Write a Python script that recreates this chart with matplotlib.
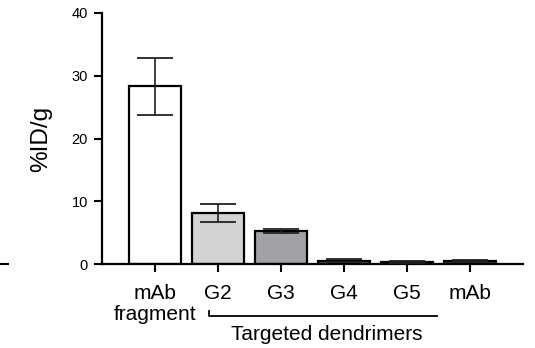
import matplotlib
matplotlib.use("Agg")
import matplotlib.pyplot as plt
from matplotlib.lines import Line2D

categories = ["mAb\nfragment", "G2", "G3", "G4", "G5", "mAb"]
values = [28.3, 8.1, 5.3, 0.55, 0.3, 0.45]
errors = [4.5, 1.4, 0.35, 0.2, 0.1, 0.15]
colors = ["#ffffff", "#d3d3d3", "#a1a1a6", "#666666", "#444444", "#444444"]
yticks = [0, 10, 20, 30, 40]
bracket_label = "Targeted dendrimers"

plt.rcParams['font.family'] = ['Liberation Sans', 'DejaVu Sans']

fig = plt.figure(figsize=(5.35, 3.48), dpi=100)
W, H = 535, 348
x0, x1 = 102, 523
y0, y1 = 264, 13
ax = fig.add_axes([x0 / W, 1 - y0 / H, (x1 - x0) / W, (y0 - y1) / H])

xs = list(range(len(categories)))
ax.bar(xs, values, width=0.82, color=colors, edgecolor="black", linewidth=1.6, zorder=2)
ax.errorbar(xs, values, yerr=errors, fmt="none", ecolor="#222222",
            elinewidth=1.2, capsize=13, capthick=1.3, zorder=3)

ax.set_xlim(-0.84, 5.84)
ax.set_ylim(0, 40)
ax.set_yticks(yticks)
ax.set_yticklabels([str(t) for t in yticks], fontsize=10.5)
ax.set_xticks(xs)
ax.set_xticklabels(categories, fontsize=15, linespacing=1.15)
ax.tick_params(axis="both", length=6, width=1.5, direction="out")
ax.tick_params(axis="x", pad=8.5)
ax.tick_params(axis="y", pad=4)
for s in ["top", "right"]:
    ax.spines[s].set_visible(False)
for s in ["left", "bottom"]:
    ax.spines[s].set_linewidth(1.6)
ax.set_ylabel("%ID/g", fontsize=17.5, labelpad=14)

# bracket under dendrimer groups
bx0 = (209 - x0) / (x1 - x0)
bx1 = (437 - x0) / (x1 - x0)
byb = -(316 - y0) / (y0 - y1)
byt = -(311 - y0) / (y0 - y1)
ax.add_line(Line2D([bx0, bx0, bx1], [byt, byb, byb], transform=ax.transAxes,
                   color="black", lw=1.3, clip_on=False))
ax.text((bx0 + bx1) / 2 + 0.01, -(335 - y0) / (y0 - y1), bracket_label,
        transform=ax.transAxes, ha="center", va="center", fontsize=15)

# small stray line at the far left
fig.add_artist(Line2D([0 / W, 8 / W], [1 - 264 / H, 1 - 264 / H],
                      transform=fig.transFigure, color="black", lw=1.5))

fig.savefig("out.png", dpi=100)
